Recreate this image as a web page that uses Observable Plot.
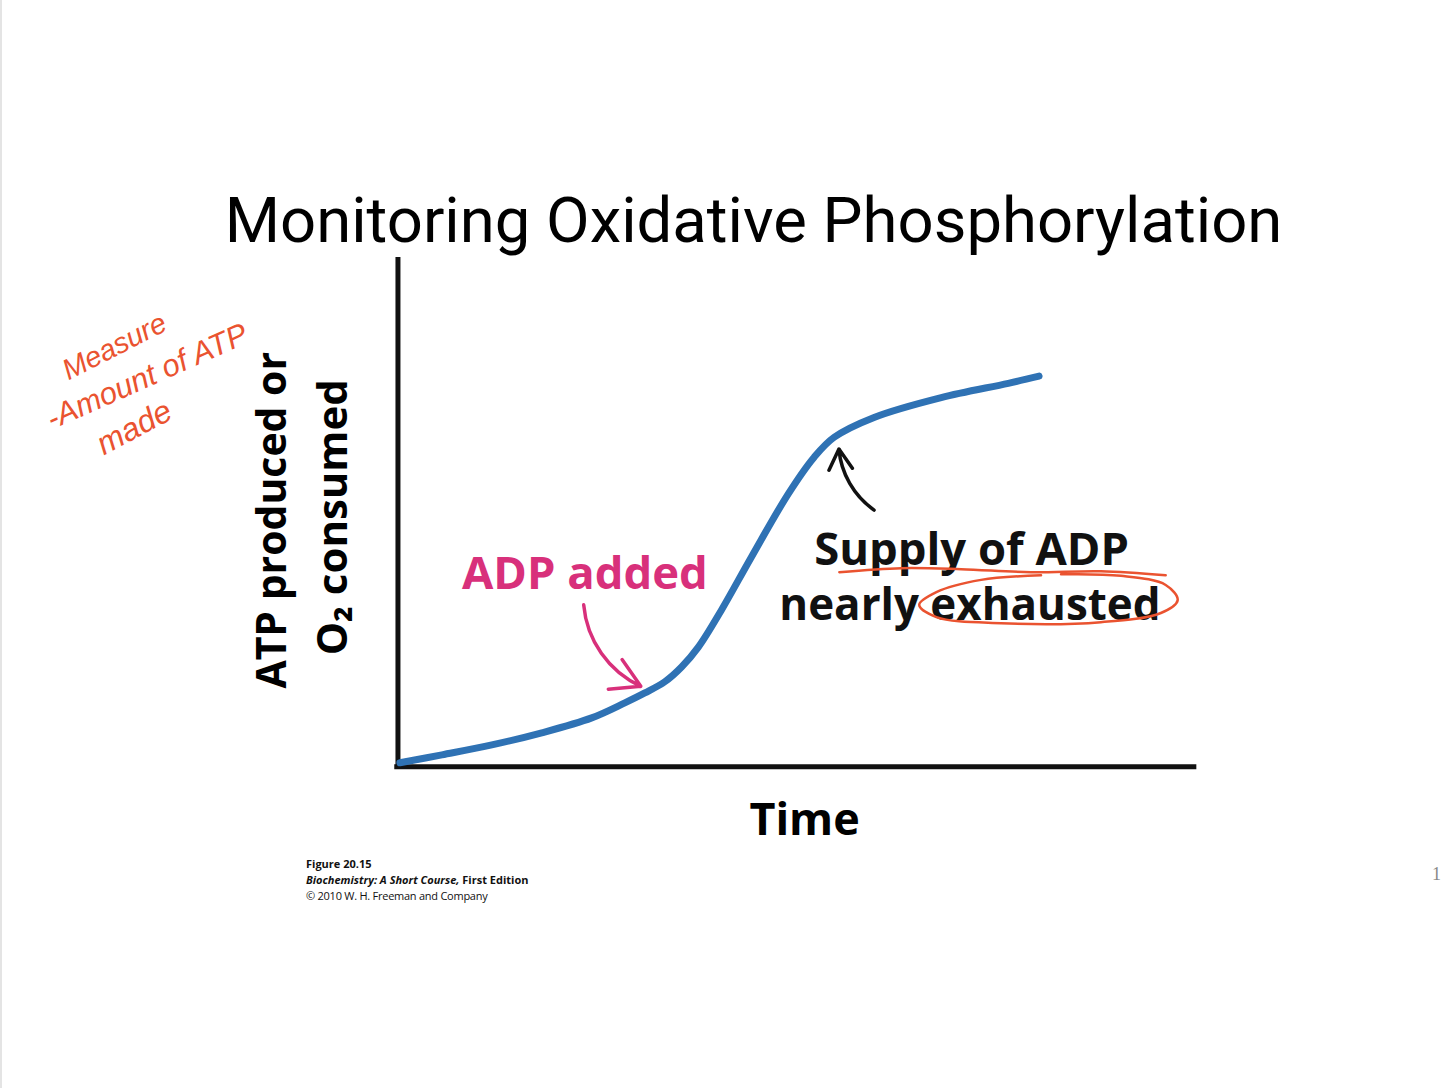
<!DOCTYPE html>
<html>
<head>
<meta charset="utf-8">
<script src="https://cdn.jsdelivr.net/npm/d3@7"></script>
<script src="https://cdn.jsdelivr.net/npm/@observablehq/plot@0.6"></script>
<style>
  html, body { margin: 0; padding: 0; background: #fff; }
  body { width: 1444px; height: 1088px; position: relative; overflow: hidden; border-left: 2px solid #e4e4e4; box-sizing: border-box; }
  #title { height: 255px; box-sizing: border-box; padding-left: 61px; text-align: center; font-family: Roboto, "Liberation Sans", sans-serif; font-size: 63.4px; color: #000; display: flex; align-items: flex-end; justify-content: center; }
  #title span { display: block; line-height: 1; padding-bottom: 3px; }
  #chart svg { display: block; }
  #caption { padding-left: 304px; margin-top: 2px; font-family: "Open Sans", "Noto Sans", sans-serif; font-size: 11px; line-height: 16px; color: #111; position: relative; }
  #caption b { font-weight: 700; }
  #caption .c3 { letter-spacing: -0.25px; }
  #pageno { position: absolute; left: 1430px; top: 10px; font-size: 18px; color: #888; font-family: "Liberation Serif", serif; }
</style>
</head>
<body>
<div id="title"><span>Monitoring Oxidative Phosphorylation</span></div>
<div id="chart"></div>
<div id="caption">
  <div><b>Figure 20.15</b></div>
  <div><b><i>Biochemistry: A Short Course,</i> First Edition</b></div>
  <div class="c3">© 2010 W. H. Freeman and Company</div>
  <span id="pageno">1</span>
</div>
<script>
// ---- data (time in arbitrary units, signal in arbitrary units) ----
const time   = [0.25, 5.5, 11.75, 18, 24.25, 28.4, 30.9, 33.4, 35.5, 37.6, 40.5, 44.25, 48.9, 52.1, 54.6, 59.6, 68, 76.4, 80.25];
const signal = [0.78, 2.35, 4.3, 6.67, 9.6, 12.55, 14.5, 16.7, 19.6, 23.5, 30.8, 41.2, 53.7, 60.8, 64.7, 68.6, 72.5, 75.3, 76.7];

const yLabelLines = ["ATP produced or", "O₂ consumed"];
const xLabel = "Time";
const adpLabel = "ADP added";
const supplyLines = ["Supply of ADP", "nearly exhausted"];
const noteLines = ["Measure", "-Amount of ATP", "made"];

// annotation arrows (start -> end, data units)
const adpArrow = [{x1: 23.25, y1: 31.8, x2: 30.4, y2: 15.8}];
const supplyArrow = [{x1: 59.6, y1: 50.4, x2: 55.2, y2: 62.4}];

// hand-drawn underline and loop (data units)
const underlineX = [55.25, 63, 70.5, 79.25, 88, 96.1];
const underlineY = [38.2, 39.0, 38.8, 38.2, 38.4, 37.6];
const loopX = [80.5, 73, 67.4, 65.25, 67.4, 75.5, 88, 95.5, 97.6, 96.1, 90.5, 83];
const loopY = [37.6, 36.7, 34.3, 31.8, 29.4, 28.2, 28.4, 30.2, 32.7, 35.7, 37.5, 37.8];

const curve = time.map((t, i) => ({t, v: signal[i]}));
const underline = underlineX.map((x, i) => ({x, y: underlineY[i]}));
const loop = loopX.map((x, i) => ({x, y: loopY[i]}));

const bold = "'Open Sans', 'Noto Sans', sans-serif";
const hand = "'Liberation Sans', sans-serif";
const red = "#ea5330";

const chart = Plot.plot({
  width: 1444,
  height: 600,
  marginLeft: 396,
  marginRight: 248,
  marginTop: 2,
  marginBottom: 88,
  x: {domain: [0, 100], axis: null},
  y: {domain: [0, 100], axis: null},
  style: {overflow: "visible", background: "transparent"},
  marks: [
    // axes
    Plot.ruleX([0], {y1: -0.4, y2: 100, stroke: "#111", strokeWidth: 5}),
    Plot.ruleY([0], {x1: -0.4, x2: 100, stroke: "#111", strokeWidth: 5}),
    // data curve
    Plot.line(curve, {x: "t", y: "v", curve: "catmull-rom", stroke: "#2f72b4", strokeWidth: 7, strokeLinecap: "round"}),
    // axis labels
    Plot.text([yLabelLines[0]], {x: -15.6, y: 48.4, text: d => d, rotate: -90, fontSize: 41, fontWeight: "bold", fontFamily: bold, fill: "#000"}),
    Plot.text([yLabelLines[1]], {x: -8.1, y: 49, text: d => d, rotate: -90, fontSize: 42, fontWeight: "bold", fontFamily: bold, fill: "#000", letterSpacing: 1}),
    Plot.text([xLabel], {x: 50.9, y: -13.3, text: d => d, lineAnchor: "bottom", fontSize: 45, fontWeight: "bold", fontFamily: bold, fill: "#000"}),
    // annotations
    Plot.text([adpLabel], {x: 23.4, y: 34.9, text: d => d, lineAnchor: "bottom", fontSize: 45.5, fontWeight: "bold", fontFamily: bold, fill: "#d8307b"}),
    Plot.arrow(adpArrow, {x1: "x1", y1: "y1", x2: "x2", y2: "y2", bend: -30, stroke: "#d8307b", strokeWidth: 3.5, headLength: 14}),
    Plot.text([supplyLines[0]], {x: 71.8, y: 39.6, text: d => d, lineAnchor: "bottom", fontSize: 45.5, fontWeight: "bold", fontFamily: bold, fill: "#111"}),
    Plot.text([supplyLines[1]], {x: 71.6, y: 28.8, text: d => d, lineAnchor: "bottom", fontSize: 44, fontWeight: "bold", fontFamily: bold, fill: "#111"}),
    Plot.arrow(supplyArrow, {x1: "x1", y1: "y1", x2: "x2", y2: "y2", bend: 25, stroke: "#111", strokeWidth: 3.5, headLength: 14}),
    // hand-drawn marks
    Plot.line(underline, {x: "x", y: "y", curve: "catmull-rom", stroke: red, strokeWidth: 2.5}),
    Plot.line(loop, {x: "x", y: "y", curve: "catmull-rom", stroke: red, strokeWidth: 2.5}),
    Plot.text([noteLines[0]], {x: -35.5, y: 82.5, text: d => d, rotate: -27, fontSize: 29, fontStyle: "italic", fontFamily: hand, fill: red}),
    Plot.text([noteLines[1]], {x: -31.4, y: 76.6, text: d => d, rotate: -24, fontSize: 31, fontStyle: "italic", fontFamily: hand, fill: red, letterSpacing: 1}),
    Plot.text([noteLines[2]], {x: -33, y: 66.6, text: d => d, rotate: -28, fontSize: 32, fontStyle: "italic", fontFamily: hand, fill: red})
  ]
});
document.getElementById("chart").append(chart);
</script>
</body>
</html>
